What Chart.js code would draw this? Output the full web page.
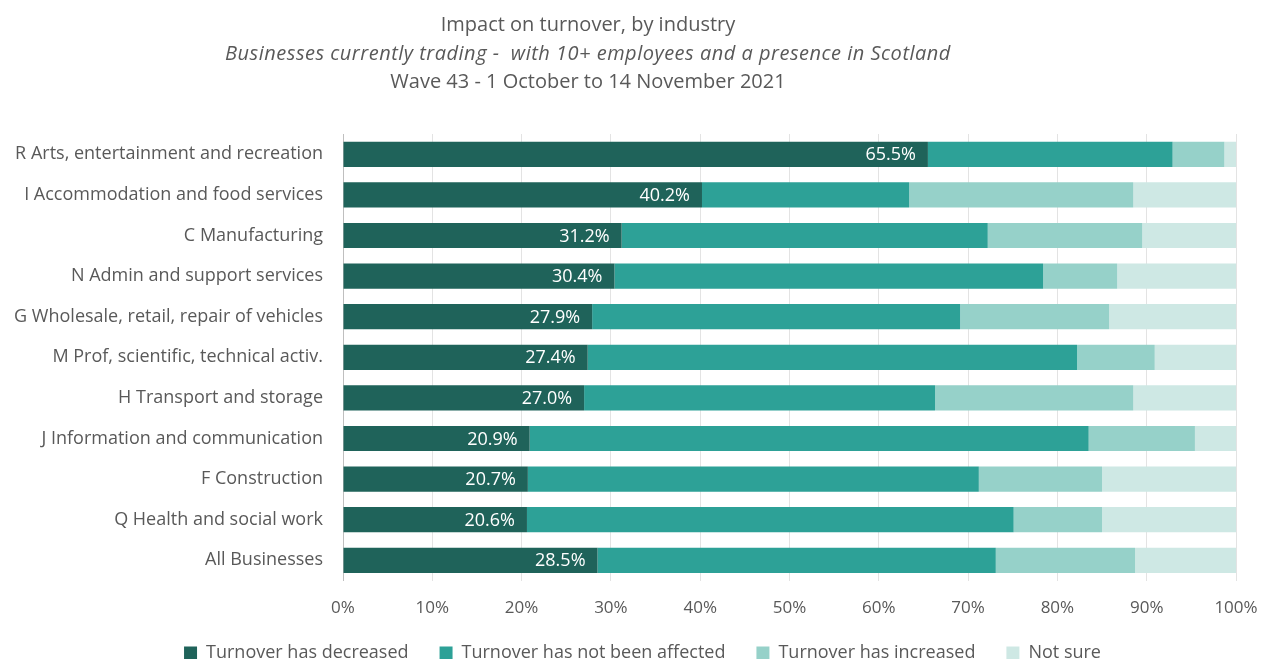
<!DOCTYPE html>
<html>
<head>
<meta charset="utf-8">
<script src="https://cdn.jsdelivr.net/npm/chart.js@4/dist/chart.umd.min.js"></script>
<style>
body{margin:0;background:#fff;}
#wrap{position:relative;width:1261px;height:659px;}
#title{position:absolute;left:0;top:10px;width:1176px;text-align:center;font-family:"Open Sans",Lato,sans-serif;font-size:20px;line-height:28.5px;color:#595959;}
#title .sub{font-style:italic;letter-spacing:0.5px;}
canvas{position:absolute;left:0;top:0;}
</style>
</head>
<body>
<div id="wrap">
<canvas id="chart" width="1261" height="659"></canvas>
<div id="title">
<div>Impact on turnover, by industry</div>
<div class="sub">Businesses currently trading -&nbsp; with 10+ employees and a presence in Scotland</div>
<div>Wave 43 - 1 October to 14 November 2021</div>
</div>
</div>
<script>

const industries=[
"R Arts, entertainment and recreation",
"I Accommodation and food services",
"C Manufacturing",
"N Admin and support services",
"G Wholesale, retail, repair of vehicles",
"M Prof, scientific, technical activ.",
"H Transport and storage",
"J Information and communication",
"F Construction",
"Q Health and social work",
"All Businesses"
];

const decreased=[65.5,40.2,31.2,30.4,27.9,27.4,27.0,20.9,20.7,20.6,28.5];
const notAffected=[27.4,23.2,41.0,48.0,41.2,54.8,39.3,62.6,50.5,54.5,44.6];
const increased=[5.8,25.1,17.3,8.3,16.7,8.7,22.2,11.9,13.8,9.9,15.6];
const notSure=[1.3,11.5,10.5,13.3,14.2,9.1,11.5,4.6,15.0,15.0,11.3];

const seriesNames=["Turnover has decreased","Turnover has not been affected","Turnover has increased","Not sure"];
const colours=["#1f635a","#2da197","#96d1c9","#cee8e4"];

const textColour="#595959";
const fontFamily="'Open Sans', Lato, sans-serif";

// white value labels on the "decreased" bars
const barLabels={
id:"barLabels",
afterDatasetsDraw(chart){
let ctx=chart.ctx;
let meta=chart.getDatasetMeta(0);
ctx.save();
ctx.fillStyle="#ffffff";
ctx.font="18px "+fontFamily;
ctx.textAlign="right";
ctx.textBaseline="middle";
meta.data.forEach((bar,i)=>{
ctx.fillText(decreased[i].toFixed(1)+"%",bar.x-12,bar.y+1);
});
ctx.restore();
}
};

// legend sits a bit lower and to the right than the layout puts it
const legendNudge={
id:"legendNudge",
afterLayout(chart){
let lg=chart.legend;
lg.left+=12;
lg.right+=12;
lg.top=613;
lg.bottom=659;
lg.height=46;
}
};

new Chart(document.getElementById("chart"),{
type:"bar",
data:{
labels:industries,
datasets:[
{label:seriesNames[0],data:decreased,backgroundColor:colours[0]},
{label:seriesNames[1],data:notAffected,backgroundColor:colours[1]},
{label:seriesNames[2],data:increased,backgroundColor:colours[2]},
{label:seriesNames[3],data:notSure,backgroundColor:colours[3]}
]
},
options:{
indexAxis:"y",
responsive:false,
animation:false,
layout:{padding:{top:134,right:0,bottom:0,left:0}},
datasets:{bar:{barPercentage:0.62,categoryPercentage:1,borderWidth:0}},
scales:{
x:{
stacked:true,
min:0,
max:100,
afterFit(scale){scale.paddingLeft=0;scale.paddingRight=25;},
ticks:{stepSize:10,callback:v=>v+"%",color:textColour,font:{family:fontFamily,size:17},padding:17},
grid:{color:"#e3e3e3",lineWidth:1,drawTicks:false},
border:{display:false}
},
y:{
stacked:true,
afterFit(scale){scale.width=343;},
ticks:{color:textColour,font:{family:fontFamily,size:18},padding:20},
grid:{display:false,drawTicks:false},
border:{display:true,color:"#bfbfbf",width:1}
}
},
plugins:{
legend:{
position:"bottom",
maxHeight:24,
labels:{boxWidth:13,boxHeight:13,color:textColour,font:{family:fontFamily,size:18},padding:31}
},
tooltip:{enabled:false}
}
},
plugins:[barLabels,legendNudge]
});

</script>
</body>
</html>
